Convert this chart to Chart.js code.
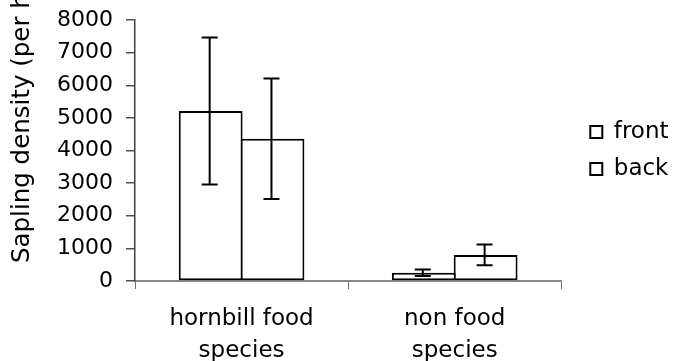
<!DOCTYPE html>
<html lang="en">
<head>
<meta charset="UTF-8">
<title>Sapling density</title>
<script src="https://cdn.jsdelivr.net/npm/chart.js"></script>
<style>
  body { margin: 0; background: #ffffff; }
  .chart-container { width: 673px; height: 361px; }
</style>
</head>
<body>
<div class="chart-container"><canvas id="densityChart"></canvas></div>
<script>
const categories = [['hornbill food', 'species'], ['non food', 'species']];
const frontMeans = [5210, 250];
const backMeans = [4360, 800];
const frontErrors = [2250, 100];
const backErrors = [1850, 320];
const yTicks = [0, 1000, 2000, 3000, 4000, 5000, 6000, 7000, 8000];
const yTitleText = 'Sapling density (per ha)';

const FONT = '"DejaVu Sans", sans-serif';

// +/- error bars drawn over each bar
const errorBars = {
  id: 'errorBars',
  afterDatasetsDraw(chart) {
    const ctx = chart.ctx;
    const y = chart.scales.y;
    ctx.save();
    ctx.strokeStyle = '#000000';
    ctx.lineWidth = 2;
    chart.data.datasets.forEach((ds, i) => {
      chart.getDatasetMeta(i).data.forEach((bar, j) => {
        const top = y.getPixelForValue(ds.data[j] + ds.errors[j]);
        const bot = y.getPixelForValue(ds.data[j] - ds.errors[j]);
        const x = bar.x - 1;
        ctx.beginPath();
        ctx.moveTo(x, top); ctx.lineTo(x, bot);
        ctx.moveTo(x - 8, top); ctx.lineTo(x + 8, top);
        ctx.moveTo(x - 8, bot); ctx.lineTo(x + 8, bot);
        ctx.stroke();
      });
    });
    ctx.restore();
  }
};

// rotated axis title, starting near the bottom of the axis
const yTitle = {
  id: 'yTitle',
  afterDraw(chart) {
    const ctx = chart.ctx;
    ctx.save();
    ctx.translate(29, 263);
    ctx.rotate(-Math.PI / 2);
    ctx.font = '24.5px ' + FONT;
    ctx.fillStyle = '#000000';
    ctx.textAlign = 'left';
    ctx.textBaseline = 'alphabetic';
    ctx.fillText(yTitleText, 0, 0);
    ctx.restore();
  }
};

new Chart(document.getElementById('densityChart'), {
  type: 'bar',
  data: {
    labels: categories,
    datasets: [
      {
        label: 'front',
        data: frontMeans,
        errors: frontErrors,
        backgroundColor: '#ffffff',
        borderColor: '#000000',
        borderWidth: 2,
        borderSkipped: false
      },
      {
        label: 'back',
        data: backMeans,
        errors: backErrors,
        backgroundColor: '#ffffff',
        borderColor: '#000000',
        borderWidth: 2,
        borderSkipped: false
      }
    ]
  },
  options: {
    responsive: true,
    maintainAspectRatio: false,
    animation: false,
    // bars a touch wider than their slot so neighbours share one border line
    categoryPercentage: 0.58,
    barPercentage: 1.033,
    layout: { padding: { top: 20, left: 0, right: -5.5, bottom: 0 } },
    plugins: {
      tooltip: { enabled: false },
      legend: {
        position: 'right',
        fullSize: false,
        labels: {
          color: '#000000',
          font: { family: FONT, size: 23 },
          boxWidth: 12,
          boxHeight: 12,
          padding: 14
        }
      }
    },
    scales: {
      x: {
        grid: { drawOnChartArea: false, tickLength: 8, color: '#707070', lineWidth: 1 },
        border: { color: '#888888', width: 2 },
        ticks: {
          color: '#000000',
          font: { family: FONT, size: 23, lineHeight: 1.35 },
          padding: 15,
          maxRotation: 0
        },
        afterFit(scale) { scale.height = 80; }
      },
      y: {
        min: 0,
        max: 8000,
        grid: { drawOnChartArea: false, tickLength: 9, color: '#505050', lineWidth: 1.5 },
        border: { color: '#404040', width: 1.5 },
        ticks: {
          color: '#000000',
          font: { family: FONT, size: 22 },
          padding: 13,
          callback: v => String(v)
        },
        afterBuildTicks(scale) { scale.ticks = yTicks.map(v => ({ value: v })); },
        afterFit(scale) {
          scale.width = 135;
          // top/bottom room comes from layout padding and the x axis instead
          scale.paddingTop = 0;
          scale.paddingBottom = 0;
        }
      },
      gap: {
        position: 'right',
        grid: { display: false },
        border: { display: false },
        ticks: { display: false },
        afterFit(scale) { scale.width = 15; }
      }
    }
  },
  plugins: [errorBars, yTitle]
});
</script>
</body>
</html>
